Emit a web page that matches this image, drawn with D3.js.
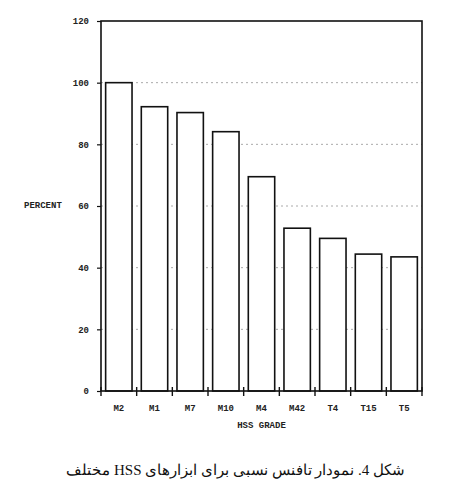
<!DOCTYPE html>
<html><head><meta charset="utf-8">
<script src="https://cdn.jsdelivr.net/npm/d3@7"></script>
<style>body{margin:0;background:#fff}</style>
</head><body>
<svg id="c" width="450" height="500"></svg>
<script>
const categories = ["M2","M1","M7","M10","M4","M42","T4","T15","T5"];
const values = [100, 92.2, 90.3, 84.1, 69.5, 52.8, 49.5, 44.4, 43.5];
const yTicks = [0, 20, 40, 60, 80, 100, 120];
const yTitle = "PERCENT";
const xTitle = "HSS GRADE";
const caption = "شکل 4. نمودار تافنس نسبی برای ابزارهای HSS مختلف";

const svg = d3.select("#c");
const L = 101, R = 422, T = 21, B = 391;
const x = d3.scaleBand().domain(categories).range([L, R]).paddingInner(0.26).paddingOuter(0.13);
const y = d3.scaleLinear().domain([0, 120]).range([B, T]);
const mono = "'Liberation Mono','DejaVu Sans Mono',monospace";

// gridlines
svg.append("g").selectAll("line").data(yTicks.filter(t => t > 0 && t < 120)).join("line")
  .attr("x1", L).attr("x2", R).attr("y1", d => y(d)).attr("y2", d => y(d))
  .attr("stroke", "#aaa").attr("stroke-width", 1).attr("stroke-dasharray", "2,3");

// bars
svg.append("g").selectAll("rect").data(values).join("rect")
  .attr("x", (d, i) => x(categories[i])).attr("width", x.bandwidth())
  .attr("y", d => y(d)).attr("height", d => B - y(d))
  .attr("fill", "#fff").attr("stroke", "#111").attr("stroke-width", 1.6);

// frame
svg.append("rect").attr("x", L).attr("y", T).attr("width", R - L).attr("height", B - T)
  .attr("fill", "none").attr("stroke", "#111").attr("stroke-width", 1.6);

// y axis
const yAxis = d3.axisLeft(y).tickValues(yTicks).tickSize(4).tickPadding(8).tickFormat(d3.format("d"));
const gy = svg.append("g").attr("transform", `translate(${L},0)`).call(yAxis);
gy.select(".domain").remove();
gy.selectAll("line").attr("stroke", "#111").attr("stroke-width", 1.2);
gy.selectAll("text").attr("font-family", mono).attr("font-size", 9).attr("font-weight", "bold").attr("fill", "#222");

// x axis ticks at band boundaries
const step = x.step();
const bounds = d3.range(categories.length + 1).map(i => L + i * step);
svg.append("g").selectAll("line").data(bounds).join("line")
  .attr("x1", d => d).attr("x2", d => d).attr("y1", B - 4).attr("y2", B + 5)
  .attr("stroke", "#111").attr("stroke-width", 1.4);

const xAxis = d3.axisBottom(x).tickSize(0).tickPadding(14);
const gx = svg.append("g").attr("transform", `translate(0,${B})`).call(xAxis);
gx.select(".domain").remove();
gx.selectAll("text").attr("font-family", mono).attr("font-size", 9).attr("font-weight", "bold").attr("fill", "#222");

svg.append("text").attr("x", (L + R) / 2).attr("y", 428).attr("text-anchor", "middle")
  .attr("font-family", mono).attr("font-size", 9).attr("font-weight", "bold").attr("fill", "#222").text(xTitle);
svg.append("text").attr("x", 24).attr("y", 208)
  .attr("font-family", mono).attr("font-size", 9).attr("font-weight", "bold").attr("fill", "#222").text(yTitle);

svg.append("text").attr("x", 405).attr("y", 475).attr("text-anchor", "start").attr("direction", "rtl")
  .attr("font-family", "'Liberation Serif','DejaVu Serif',serif").attr("font-size", 15).attr("fill", "#111").text(caption);
</script>
</body></html>
